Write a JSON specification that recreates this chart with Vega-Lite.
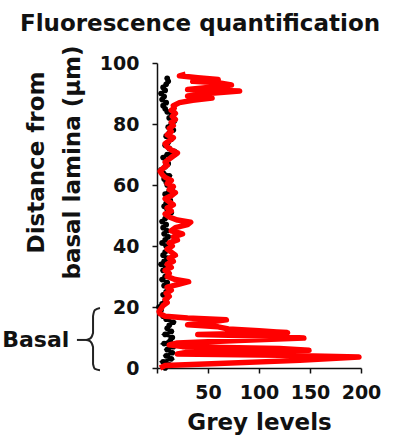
{
  "$schema": "https://vega.github.io/schema/vega-lite/v6.json",
  "width": 204,
  "height": 305,
  "autosize": "none",
  "padding": {"left": 157, "top": 63, "right": 41, "bottom": 73},
  "background": "white",
  "title": {
    "text": "Fluorescence quantification",
    "anchor": "middle",
    "dx": -59,
    "dy": 31,
    "offset": 22,
    "baseline": "alphabetic",
    "font": "DejaVu Sans",
    "fontWeight": "bold",
    "fontSize": 23,
    "color": "#111111",
    "frame": "group"
  },
  "config": {
    "view": {"stroke": null},
    "axis": {
      "grid": false,
      "domainColor": "#111111",
      "domainWidth": 1.5,
      "tickColor": "#111111",
      "tickWidth": 1.5,
      "tickSize": 5,
      "labelOverlap": false,
      "labelFlush": false,
      "labelFont": "DejaVu Sans",
      "labelFontWeight": "bold",
      "labelFontSize": 19,
      "labelColor": "#111111",
      "titleFont": "DejaVu Sans",
      "titleFontWeight": "bold",
      "titleFontSize": 23,
      "titleColor": "#111111"
    }
  },
  "datasets": {
    "black": [
      {"d":0,"g":8},{"d":1,"g":12},{"d":2,"g":6},{"d":3,"g":14},{"d":4,"g":9},{"d":5,"g":15},{"d":6,"g":10},{"d":7,"g":16},{"d":8,"g":7},{"d":9,"g":13},
      {"d":10,"g":15},{"d":11,"g":8},{"d":12,"g":14},{"d":13,"g":10},{"d":14,"g":12},{"d":15,"g":16},{"d":16,"g":9},{"d":17,"g":6},{"d":18,"g":3},{"d":19,"g":4},
      {"d":20,"g":2},{"d":21,"g":5},{"d":22,"g":8},{"d":23,"g":10},{"d":24,"g":6},{"d":25,"g":9},{"d":26,"g":12},{"d":27,"g":7},{"d":28,"g":10},{"d":29,"g":5},
      {"d":30,"g":8},{"d":31,"g":11},{"d":32,"g":6},{"d":33,"g":9},{"d":34,"g":4},{"d":35,"g":7},{"d":36,"g":10},{"d":37,"g":6},{"d":38,"g":8},{"d":39,"g":12},
      {"d":40,"g":9},{"d":41,"g":5},{"d":42,"g":8},{"d":43,"g":11},{"d":44,"g":7},{"d":45,"g":10},{"d":46,"g":6},{"d":47,"g":9},{"d":48,"g":5},{"d":49,"g":8},
      {"d":50,"g":12},{"d":51,"g":14},{"d":52,"g":10},{"d":53,"g":7},{"d":54,"g":9},{"d":55,"g":13},{"d":56,"g":11},{"d":57,"g":8},{"d":58,"g":12},{"d":59,"g":15},
      {"d":60,"g":10},{"d":61,"g":9},{"d":62,"g":7},{"d":63,"g":12},{"d":64,"g":6},{"d":65,"g":4},{"d":66,"g":8},{"d":67,"g":11},{"d":68,"g":9},{"d":69,"g":6},
      {"d":70,"g":10},{"d":71,"g":17},{"d":72,"g":12},{"d":73,"g":8},{"d":74,"g":11},{"d":75,"g":14},{"d":76,"g":9},{"d":77,"g":12},{"d":78,"g":16},{"d":79,"g":11},
      {"d":80,"g":14},{"d":81,"g":17},{"d":82,"g":12},{"d":83,"g":15},{"d":84,"g":10},{"d":85,"g":8},{"d":86,"g":6},{"d":87,"g":9},{"d":88,"g":5},{"d":89,"g":7},
      {"d":90,"g":4},{"d":91,"g":8},{"d":92,"g":6},{"d":93,"g":9},{"d":94,"g":11},{"d":95,"g":10}
    ],
    "red": [
      {"d":0.0,"g":3},{"d":0.8,"g":8},{"d":1.5,"g":60},{"d":2.5,"g":140},{"d":3.6,"g":198},{"d":4.2,"g":120},{"d":4.6,"g":20},{"d":5.2,"g":30},{"d":5.8,"g":149},{"d":6.4,"g":120},
      {"d":7.0,"g":25},{"d":7.6,"g":12},{"d":8.2,"g":20},{"d":9.0,"g":80},{"d":9.8,"g":144},{"d":10.4,"g":110},{"d":11.0,"g":40},{"d":11.6,"g":128},{"d":12.2,"g":100},{"d":12.8,"g":70},
      {"d":13.5,"g":60},{"d":14.2,"g":30},{"d":15.0,"g":50},{"d":15.8,"g":68},{"d":16.4,"g":30},{"d":17.0,"g":8},{"d":17.8,"g":3},{"d":18.5,"g":2},{"d":19.5,"g":4},{"d":20.5,"g":6},
      {"d":21.5,"g":10},{"d":22.5,"g":8},{"d":23.5,"g":12},{"d":24.5,"g":9},{"d":25.5,"g":14},{"d":26.5,"g":10},{"d":27.5,"g":22},{"d":28.3,"g":31},{"d":29.0,"g":18},{"d":30,"g":10},
      {"d":31,"g":12},{"d":32,"g":8},{"d":33,"g":14},{"d":34,"g":10},{"d":35,"g":16},{"d":36,"g":12},{"d":37,"g":18},{"d":38,"g":14},{"d":39,"g":10},{"d":40,"g":15},
      {"d":41,"g":12},{"d":42,"g":20},{"d":43,"g":16},{"d":44,"g":25},{"d":45,"g":14},{"d":46,"g":18},{"d":47,"g":30},{"d":47.8,"g":33},{"d":48.5,"g":20},{"d":49.5,"g":12},
      {"d":50.5,"g":8},{"d":51.5,"g":14},{"d":52.5,"g":10},{"d":53.5,"g":16},{"d":54.5,"g":12},{"d":55.5,"g":8},{"d":56.5,"g":14},{"d":57.5,"g":18},{"d":58.5,"g":12},{"d":59.5,"g":16},
      {"d":60.5,"g":10},{"d":61.5,"g":14},{"d":62.5,"g":8},{"d":63.5,"g":5},{"d":64.5,"g":3},{"d":65.5,"g":6},{"d":66.5,"g":10},{"d":67.5,"g":8},{"d":68.5,"g":12},{"d":69.5,"g":16},
      {"d":70.5,"g":20},{"d":71.5,"g":14},{"d":72.5,"g":10},{"d":73.5,"g":8},{"d":74.5,"g":12},{"d":75.5,"g":16},{"d":76.5,"g":10},{"d":77.5,"g":14},{"d":78.5,"g":12},{"d":79.5,"g":16},
      {"d":80.5,"g":14},{"d":81.5,"g":18},{"d":82.5,"g":15},{"d":83.5,"g":18},{"d":84.5,"g":14},{"d":85.2,"g":17},{"d":86.0,"g":16},{"d":87.0,"g":22},{"d":87.8,"g":35},{"d":88.5,"g":54},
      {"d":89.2,"g":30},{"d":90.0,"g":50},{"d":90.8,"g":81},{"d":91.3,"g":30},{"d":92.0,"g":50},{"d":92.8,"g":73},{"d":93.5,"g":60},{"d":94.0,"g":35},{"d":94.6,"g":60},{"d":95.2,"g":40},
      {"d":95.8,"g":22},{"d":96.3,"g":28}
    ],
    "brace": [
      {"part":"brace","o":1,"g":-55.9,"d":19.7},
      {"part":"brace","o":2,"g":-60.8,"d":19.0},
      {"part":"brace","o":3,"g":-62.7,"d":17.0},
      {"part":"brace","o":4,"g":-62.7,"d":11.5},
      {"part":"brace","o":5,"g":-65.7,"d":9.6},
      {"part":"brace","o":6,"g":-69.6,"d":9.2},
      {"part":"brace","o":7,"g":-65.7,"d":8.8},
      {"part":"brace","o":8,"g":-62.7,"d":6.9},
      {"part":"brace","o":9,"g":-62.7,"d":1.3},
      {"part":"brace","o":10,"g":-60.8,"d":-0.3},
      {"part":"brace","o":11,"g":-55.9,"d":-0.7},
      {"part":"dash","o":1,"g":-78.5,"d":9.2},
      {"part":"dash","o":2,"g":-69.6,"d":9.2}
    ],
    "labels": [
      {"text":"Basal","g":-86,"d":9.2}
    ]
  },
  "encoding": {
    "x": {
      "field": "g",
      "type": "quantitative",
      "scale": {"domain": [0, 200], "nice": false, "zero": true},
      "axis": {
        "title": "Grey levels",
        "values": [0, 50, 100, 150, 200],
        "labelExpr": "datum.value == 0 ? '' : datum.label",
        "labelPadding": 10,
        "titlePadding": 9
      }
    },
    "y": {
      "field": "d",
      "type": "quantitative",
      "scale": {"domain": [0, 100], "nice": false},
      "axis": {
        "title": ["Distance from", "basal lamina (µm)"],
        "values": [0, 20, 40, 60, 80, 100],
        "labelPadding": 13,
        "titleAngle": 270,
        "titleAlign": "center",
        "titleBaseline": "bottom",
        "titleLineHeight": 36,
        "titleX": -109,
        "titleY": 99
      }
    }
  },
  "layer": [
    {
      "data": {"name": "black"},
      "mark": {"type": "line", "color": "#000000", "strokeWidth": 3.5},
      "encoding": {"order": {"field": "d", "type": "quantitative"}}
    },
    {
      "data": {"name": "black"},
      "mark": {"type": "circle", "color": "#000000", "size": 32, "opacity": 1}
    },
    {
      "data": {"name": "red"},
      "mark": {"type": "line", "color": "#FF0000", "strokeWidth": 5.5, "strokeJoin": "round"},
      "encoding": {"order": {"field": "d", "type": "quantitative"}}
    },
    {
      "data": {"name": "brace"},
      "mark": {"type": "line", "color": "#222222", "strokeWidth": 2, "clip": false, "interpolate": "monotone"},
      "encoding": {
        "order": {"field": "o", "type": "quantitative"},
        "detail": {"field": "part", "type": "nominal"}
      }
    },
    {
      "data": {"name": "labels"},
      "mark": {"type": "text", "align": "right", "baseline": "middle", "font": "DejaVu Sans", "fontWeight": "bold", "fontSize": 22, "color": "#111111", "clip": false},
      "encoding": {"text": {"field": "text", "type": "nominal"}}
    }
  ]
}
